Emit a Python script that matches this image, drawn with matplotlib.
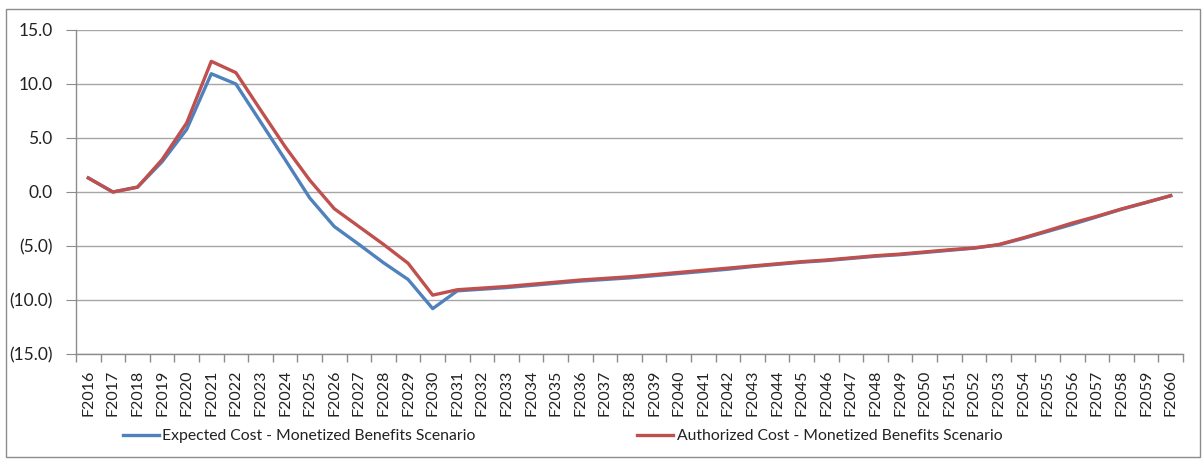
import matplotlib
matplotlib.use("Agg")
import matplotlib.pyplot as plt
from matplotlib.patches import Rectangle
import numpy as np

years = [f"F{y}" for y in range(2016, 2061)]

expected = [1.3, 0.0, 0.45, 2.8, 5.8, 10.95, 10.0, 6.5, 3.0, -0.55,
            -3.2, -4.85, -6.55, -8.1, -10.8, -9.15, -9.0, -8.85, -8.65, -8.45,
            -8.25, -8.1, -7.95, -7.75, -7.55, -7.35, -7.15, -6.9, -6.7, -6.5,
            -6.35, -6.15, -5.95, -5.8, -5.6, -5.4, -5.2, -4.9, -4.3, -3.65,
            -3.0, -2.3, -1.6, -0.98, -0.34]
authorized = [1.3, 0.0, 0.45, 3.0, 6.4, 12.1, 11.05, 7.6, 4.2, 1.1,
              -1.55, -3.2, -4.85, -6.6, -9.55, -9.05, -8.9, -8.75, -8.55, -8.35,
              -8.15, -8.0, -7.85, -7.65, -7.45, -7.25, -7.05, -6.85, -6.65, -6.45,
              -6.3, -6.1, -5.9, -5.75, -5.55, -5.35, -5.18, -4.87, -4.25, -3.58,
              -2.87, -2.25, -1.57, -0.96, -0.34]
yticks = [15, 10, 5, 0, -5, -10, -15]
ytick_labels = ["15.0", "10.0", "5.0", "0.0", "(5.0)", "(10.0)", "(15.0)"]

W, H = 1203, 459
fig = plt.figure(figsize=(W / 100, H / 100), dpi=100)
fig.patch.set_facecolor("white")
fig.patches.append(Rectangle((6 / W, 2 / H), 1194 / W, (457 - 9) / H,
                             transform=fig.transFigure, fill=False,
                             edgecolor="#8c8c8c", linewidth=1.0))

left, right, top, bottom = 76, 1183, 30, 354
ax = fig.add_axes([left / W, 1 - bottom / H, (right - left) / W, (bottom - top) / H])

x = np.arange(len(years))
ax.plot(x, expected, color="#4F81BD", linewidth=2.4,
        label="Expected Cost - Monetized Benefits Scenario", solid_joinstyle="round")
ax.plot(x, authorized, color="#C0504D", linewidth=2.4,
        label="Authorized Cost - Monetized Benefits Scenario", solid_joinstyle="round")

ax.set_xlim(-0.5, len(years) - 0.5)
ax.set_ylim(-15, 15)
ax.set_yticks(yticks)
ax.set_yticklabels(ytick_labels)
ax.yaxis.grid(True, color="#a6a6a6", linewidth=1.0)
ax.set_axisbelow(True)

ax.set_xticks(x)
ax.set_xticklabels(years, rotation=90)
ax.set_xticks(np.arange(-0.5, len(years), 1.0), minor=True)
ax.tick_params(axis="x", which="major", length=0, pad=11, labelsize=11.5,
               labelcolor="#222222")
ax.tick_params(axis="x", which="minor", length=6, color="#8c8c8c", width=1)
ax.tick_params(axis="y", length=7, color="#8c8c8c", labelsize=12.5,
               labelcolor="#222222", pad=10)

for s in ["top", "right"]:
    ax.spines[s].set_visible(False)
for s in ["left", "bottom"]:
    ax.spines[s].set_color("#8c8c8c")
    ax.spines[s].set_linewidth(1.0)

for t in ax.get_xticklabels() + ax.get_yticklabels():
    t.set_fontfamily(["Lato", "DejaVu Sans"])

leg = fig.legend(loc="center left", bbox_to_anchor=(109 / W, 1 - 436 / H),
                 ncol=2, frameon=False, handlelength=2.3, handletextpad=0.2,
                 columnspacing=10.3, prop={"family": ["Lato", "DejaVu Sans"], "size": 11.3})
for t in leg.get_texts():
    t.set_color("#222222")

fig.savefig("out.png", dpi=100, facecolor="white")
